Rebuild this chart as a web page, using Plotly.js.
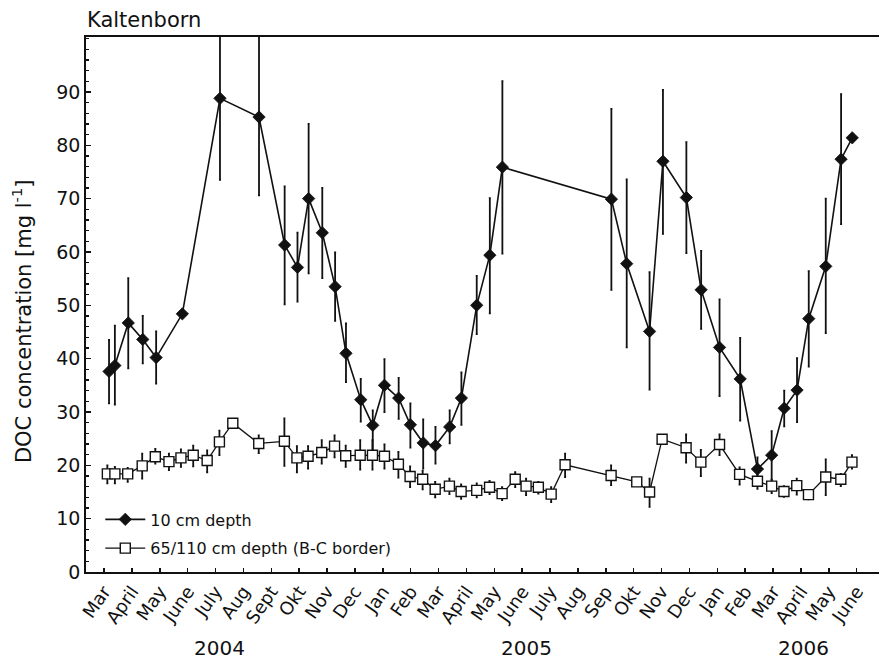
<!DOCTYPE html>
<html>
<head>
<meta charset="utf-8">
<script src="https://cdn.plot.ly/plotly-3.0.1.min.js"></script>
<style>html,body{margin:0;padding:0;background:#fff;}#chart{width:881px;height:660px;}</style>
</head>
<body>
<div id="chart"></div>
<script>
// Month tick labels (month index 0 = March 2004)
const monthLabels = ["Mar","April","May","June","July","Aug","Sept","Okt","Nov","Dec","Jan","Feb",
  "Mar","April","May","June","July","Aug","Sep","Okt","Nov","Dec","Jan","Feb","Mar","April","May","June"];
const yearLabels = ["2004","2005","2006"];
const yearPositions = [4.16, 15.17, 25.1];

// 10 cm depth (month index, mean DOC, upper and lower end of error bar)
const topsoilMonth = [0.18,0.39,0.87,1.39,1.87,2.81,4.16,5.56,6.48,6.94,7.34,7.83,8.29,8.68,
  9.21,9.64,10.06,10.57,10.99,11.45,11.89,12.40,12.82,13.37,13.84,14.29,
  18.2,18.75,19.57,20.05,20.89,21.42,22.08,22.82,23.44,23.95,24.4,24.86,25.28,25.89,26.44,26.84];
const topsoilDOC = [37.6,38.7,46.7,43.6,40.2,48.4,88.8,85.3,61.3,57.1,70.0,63.6,53.5,41.0,
  32.3,27.5,35.0,32.6,27.6,24.2,23.7,27.2,32.6,50.0,59.4,75.9,
  69.9,57.8,45.1,77.0,70.2,52.9,42.1,36.2,19.3,21.9,30.7,34.1,47.5,57.3,77.4,81.4];
const topsoilUpper = [43.5,46.2,55.1,48.0,45.1,48.4,104.0,100.5,72.3,63.6,84.0,72.0,59.9,46.6,
  36.2,30.3,39.9,36.4,31.6,28.6,27.2,30.3,37.4,55.5,70.1,92.0,
  86.8,73.6,56.2,90.4,80.6,60.2,51.1,43.9,21.5,26.4,34.0,40.1,56.4,70.0,89.6,81.4];
const topsoilLower = [31.6,31.4,38.2,39.1,35.3,48.4,73.5,70.6,50.2,50.7,56.0,55.1,47.1,35.6,
  28.2,22.8,30.0,28.7,23.3,19.4,20.3,24.1,27.6,44.6,48.5,59.7,
  52.9,42.1,34.2,63.4,59.8,45.6,33.0,28.4,17.2,16.9,27.3,28.1,38.5,44.8,65.2,81.4];

// 65/110 cm depth (B-C border)
const subsoilMonth = [0.12,0.39,0.85,1.37,1.84,2.33,2.76,3.20,3.70,4.14,4.62,5.55,6.47,6.92,7.32,7.81,8.27,8.67,
  9.19,9.63,10.06,10.56,10.98,11.43,11.88,12.39,12.81,13.37,13.83,14.28,14.75,15.14,15.58,16.04,16.54,
  18.19,19.11,19.57,20.02,20.88,21.41,22.08,22.8,23.44,23.95,24.39,24.85,25.27,25.89,26.43,26.83];
const subsoilDOC = [18.4,18.4,18.4,19.9,21.6,20.7,21.4,21.9,20.9,24.4,27.9,24.1,24.5,21.4,21.7,22.4,23.6,21.8,
  21.9,21.9,21.7,20.2,17.9,17.4,15.5,16.1,15.1,15.3,15.9,14.7,17.4,16.1,15.9,14.6,20.1,
  18.1,16.9,15.0,24.9,23.3,20.6,23.9,18.3,17.0,16.1,15.1,16.2,14.5,17.8,17.4,20.6];
const subsoilUpper = [20.0,19.7,19.5,22.2,23.1,22.2,23.0,23.7,22.8,26.5,28.5,25.6,28.8,23.6,23.6,24.7,25.6,23.7,
  24.7,24.7,23.9,22.5,19.8,19.0,16.9,17.5,16.4,16.6,17.1,15.9,18.7,17.5,16.9,15.9,22.2,
  20.0,17.3,17.5,25.3,25.8,22.9,25.8,19.6,18.3,17.3,16.1,17.5,15.3,21.1,18.4,21.9];
const subsoilLower = [16.6,16.6,16.9,17.5,20.3,19.1,19.7,19.8,18.7,21.9,27.3,22.3,19.9,18.7,19.4,20.3,21.5,19.7,
  19.2,19.2,19.4,17.7,15.9,15.5,14.0,14.6,13.7,14.0,14.6,13.5,15.9,14.4,14.7,13.1,17.8,
  16.3,16.5,12.2,24.5,20.5,18.0,21.9,16.4,15.6,14.8,14.1,14.5,13.6,14.4,16.1,19.4];

const seriesNames = ["10 cm depth", "65/110 cm depth (B-C border)"];
const yTitle = "DOC concentration [mg l<sup>-1</sup>]";

const FONT = "DejaVu Sans, Arial, sans-serif";
const INK = "#111111";

function errs(vals, up, lo) {
  return {
    type: "data", symmetric: false,
    array: up.map((u, i) => u - vals[i]),
    arrayminus: lo.map((l, i) => vals[i] - l),
    color: INK, thickness: 1.8, width: 1
  };
}

const traces = [
  {
    x: topsoilMonth, y: topsoilDOC, name: seriesNames[0], legendgroup: "a",
    type: "scatter", mode: "lines+markers",
    line: {color: INK, width: 1.6},
    marker: {symbol: "diamond", size: 9.5, color: INK, line: {color: INK, width: 0.8}},
    error_y: errs(topsoilDOC, topsoilUpper, topsoilLower)
  },
  {
    x: subsoilMonth, y: subsoilDOC, name: seriesNames[1], legendgroup: "b",
    type: "scatter", mode: "lines+markers",
    line: {color: INK, width: 1.3},
    marker: {symbol: "square", size: 10, color: "#ffffff", line: {color: INK, width: 1.4}},
    error_y: errs(subsoilDOC, subsoilUpper, subsoilLower)
  }
];

const tickIdx = monthLabels.map((_, i) => i);

const layout = {
  width: 881, height: 660,
  margin: {l: 86, r: 2, t: 37, b: 88},
  paper_bgcolor: "#ffffff", plot_bgcolor: "#ffffff",
  font: {family: FONT, color: INK, size: 18},
  title: {text: "Kaltenborn", x: 87/881, xref: "container", xanchor: "left",
          y: 1 - 20/660, yref: "container", yanchor: "middle",
          font: {family: FONT, size: 21, color: INK}},
  showlegend: true,
  legend: {x: 0.018, xanchor: "left", y: 0.13, yanchor: "top",
           font: {family: FONT, size: 16, color: INK}, itemwidth: 40,
           bgcolor: "rgba(255,255,255,0)", traceorder: "grouped", tracegroupgap: 5},
  xaxis: {
    range: [-0.646, 27.8], showgrid: false, zeroline: false,
    tickmode: "array", tickvals: tickIdx, ticktext: monthLabels,
    ticks: "inside", ticklen: 4, tickwidth: 1.5, tickcolor: INK,
    tickangle: -55, tickfont: {family: FONT, size: 18, color: INK},
    showline: true, linecolor: INK, linewidth: 1.8, mirror: true
  },
  yaxis: {
    range: [0, 100.3], showgrid: false, zeroline: false,
    tickmode: "array", tickvals: [0,10,20,30,40,50,60,70,80,90],
    ticks: "inside", ticklen: 5, tickwidth: 1.5, tickcolor: INK,
    tickfont: {family: FONT, size: 19, color: INK},
    minor: {dtick: 2, ticks: "inside", ticklen: 3, tickwidth: 1.2, tickcolor: INK},
    showline: true, linecolor: INK, linewidth: 1.8, mirror: false
  },
  annotations: yearLabels.map((t, i) => ({
    text: t, x: yearPositions[i], xref: "x", y: -0.142, yref: "paper",
    xanchor: "center", yanchor: "middle", showarrow: false,
    font: {family: FONT, size: 20, color: INK}
  })).concat([{
    text: yTitle, textangle: -90, x: (22 - 86) / 794, xref: "paper",
    y: (572 - 321) / 535, yref: "paper", xanchor: "center", yanchor: "middle",
    showarrow: false, font: {family: FONT, size: 21, color: INK}
  }])
};

Plotly.newPlot("chart", traces, layout, {displayModeBar: false, staticPlot: true});
</script>
</body>
</html>
